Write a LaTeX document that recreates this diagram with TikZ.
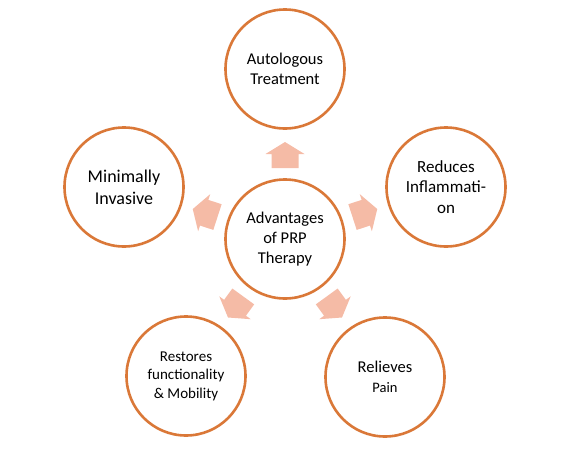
\documentclass[tikz,border=0pt]{standalone}
\usepackage{fontspec}
\setmainfont{Carlito}
\definecolor{ring}{HTML}{DA7838}
\definecolor{arr}{HTML}{F5BBA6}
\begin{document}
\begin{tikzpicture}[x=1pt,y=-1pt,
  bubble/.style={circle, draw=ring, line width=2.6pt, fill=white, minimum size=119pt, inner sep=0pt, align=center, text=black},
  blockarrow/.style={fill=arr, draw=none}]
\useasboundingbox (0,0) rectangle (582,448);
\coordinate (c) at (285,239);
\node[bubble, font=\fontsize{16.5}{20}\selectfont] (center) at (c) {Advantages\\of PRP\\Therapy};
\node[bubble, font=\fontsize{16.5}{20}\selectfont] (auto) at (285,69) {Autologous\\Treatment};
\node[bubble, font=\fontsize{18}{22}\selectfont] (mini) at (124,187) {Minimally\\Invasive};
\node[bubble, font=\fontsize{17}{20.5}\selectfont] (redu) at (446,187) {Reduces\\Inflammati-\\on};
\node[bubble, font=\fontsize{15}{18.5}\selectfont] (rest) at (186,376) {Restores\\functionality\\\&~Mobility};
\node[bubble, font=\fontsize{16.5}{20}\selectfont] (reli) at (385,377) {Relieves\\{\fontsize{14.5}{20}\selectfont Pain}};
\foreach \ang in {90,162,18,234,306}{
  \fill[blockarrow, shift={(c)}, rotate=\ang]
    (71,-13.5) -- (85,-13.5) -- (85,-19.5) -- (97,0) -- (85,19.5) -- (85,13.5) -- (71,13.5) -- cycle;
}
\end{tikzpicture}
\end{document}
